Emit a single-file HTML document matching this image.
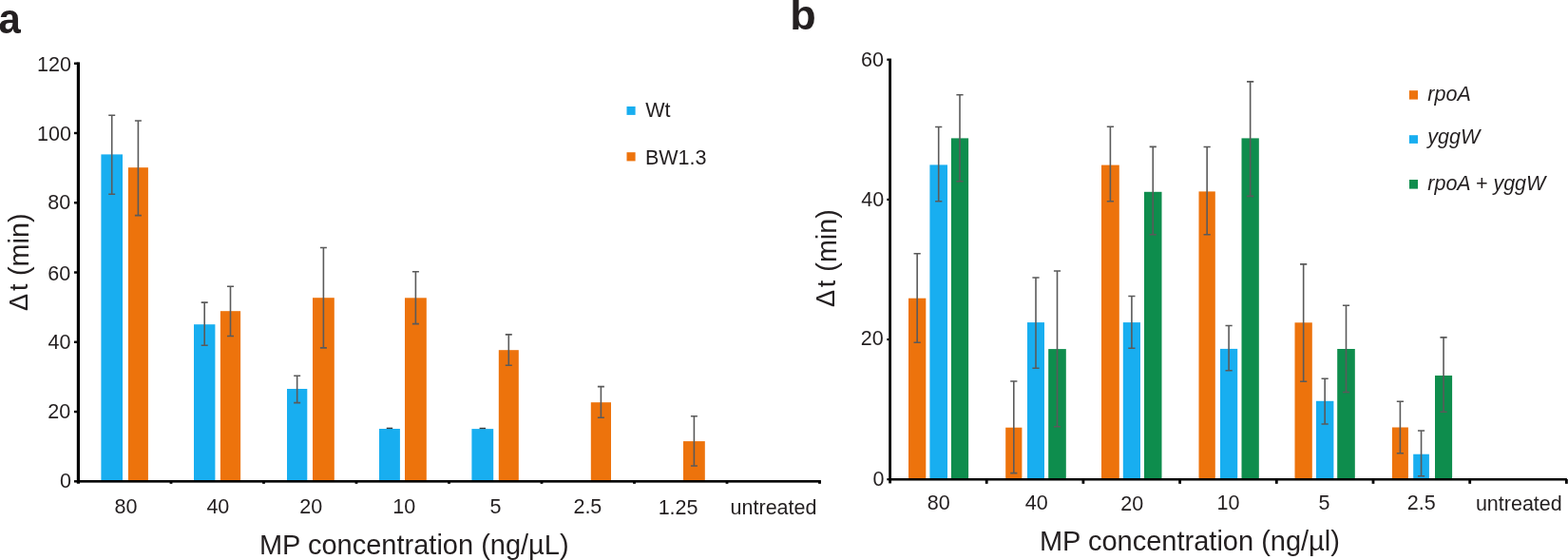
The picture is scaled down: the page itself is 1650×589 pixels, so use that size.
<!DOCTYPE html>
<html><head><meta charset="utf-8"><title>Figure</title>
<style>
html,body{margin:0;padding:0;background:#fff;}
body{width:1650px;height:589px;overflow:hidden;}
svg{display:block;}
text{font-family:"Liberation Sans",Arial,Helvetica,sans-serif;fill:#231F20;}
</style></head>
<body>
<svg width="1650" height="589" viewBox="0 0 1650 589">
<rect width="1650" height="589" fill="#fff"/>
<rect x="106.40" y="162.40" width="22.60" height="343.60" fill="#18AEF0"/>
<rect x="134.90" y="176.20" width="21.00" height="329.80" fill="#ED730C"/>
<rect x="204.00" y="341.20" width="22.40" height="164.80" fill="#18AEF0"/>
<rect x="231.90" y="327.20" width="21.20" height="178.80" fill="#ED730C"/>
<rect x="302.00" y="409.00" width="21.30" height="97.00" fill="#18AEF0"/>
<rect x="329.00" y="313.20" width="22.80" height="192.80" fill="#ED730C"/>
<rect x="399.00" y="451.00" width="21.90" height="55.00" fill="#18AEF0"/>
<rect x="426.00" y="313.30" width="22.80" height="192.70" fill="#ED730C"/>
<rect x="496.40" y="451.10" width="22.80" height="54.90" fill="#18AEF0"/>
<rect x="524.80" y="368.20" width="21.00" height="137.80" fill="#ED730C"/>
<rect x="621.80" y="423.20" width="21.20" height="82.80" fill="#ED730C"/>
<rect x="719.00" y="464.10" width="22.80" height="41.90" fill="#ED730C"/>
<path d="M117.70 121.20V204.20M114.20 121.20H121.20M114.20 204.20H121.20" stroke="#5A5A5A" stroke-width="1.6" fill="none"/>
<path d="M145.40 127.00V226.60M141.90 127.00H148.90M141.90 226.60H148.90" stroke="#5A5A5A" stroke-width="1.6" fill="none"/>
<path d="M215.20 318.10V363.20M211.70 318.10H218.70M211.70 363.20H218.70" stroke="#5A5A5A" stroke-width="1.6" fill="none"/>
<path d="M242.50 301.20V353.50M239.00 301.20H246.00M239.00 353.50H246.00" stroke="#5A5A5A" stroke-width="1.6" fill="none"/>
<path d="M312.65 395.30V423.60M309.15 395.30H316.15M309.15 423.60H316.15" stroke="#5A5A5A" stroke-width="1.6" fill="none"/>
<path d="M340.40 260.50V365.90M336.90 260.50H343.90M336.90 365.90H343.90" stroke="#5A5A5A" stroke-width="1.6" fill="none"/>
<path d="M406.75 450.40H413.15" stroke="#3a3a3a" stroke-width="1.4" fill="none"/>
<path d="M437.40 285.70V340.60M433.90 285.70H440.90M433.90 340.60H440.90" stroke="#5A5A5A" stroke-width="1.6" fill="none"/>
<path d="M504.60 450.50H511.00" stroke="#3a3a3a" stroke-width="1.4" fill="none"/>
<path d="M535.30 351.90V384.20M531.80 351.90H538.80M531.80 384.20H538.80" stroke="#5A5A5A" stroke-width="1.6" fill="none"/>
<path d="M632.40 406.60V439.30M628.90 406.60H635.90M628.90 439.30H635.90" stroke="#5A5A5A" stroke-width="1.6" fill="none"/>
<path d="M730.40 437.70V490.00M726.90 437.70H733.90M726.90 490.00H733.90" stroke="#5A5A5A" stroke-width="1.6" fill="none"/>
<rect x="80.80" y="65.40" width="3.20" height="443.30" fill="#000"/>
<rect x="80.80" y="505.00" width="783.00" height="2.60" fill="#000"/>
<rect x="78.00" y="505.10" width="3.50" height="2.40" fill="#000"/>
<rect x="78.00" y="431.84" width="3.50" height="2.40" fill="#000"/>
<rect x="78.00" y="358.58" width="3.50" height="2.40" fill="#000"/>
<rect x="78.00" y="285.32" width="3.50" height="2.40" fill="#000"/>
<rect x="78.00" y="212.06" width="3.50" height="2.40" fill="#000"/>
<rect x="78.00" y="138.80" width="3.50" height="2.40" fill="#000"/>
<rect x="78.00" y="65.54" width="3.50" height="2.40" fill="#000"/>
<rect x="178.60" y="505.50" width="2.80" height="3.30" fill="#000"/>
<rect x="276.10" y="505.50" width="2.80" height="3.30" fill="#000"/>
<rect x="373.60" y="505.50" width="2.80" height="3.30" fill="#000"/>
<rect x="471.10" y="505.50" width="2.80" height="3.30" fill="#000"/>
<rect x="568.60" y="505.50" width="2.80" height="3.30" fill="#000"/>
<rect x="666.10" y="505.50" width="2.80" height="3.30" fill="#000"/>
<rect x="763.60" y="505.50" width="2.80" height="3.30" fill="#000"/>
<rect x="861.10" y="505.50" width="2.80" height="3.30" fill="#000"/>
<text id="ayt0" x="74.98" y="512.70" font-size="21.5" text-anchor="end" >0</text>
<text id="ayt20" x="74.25" y="440.20" font-size="21.5" text-anchor="end" >20</text>
<text id="ayt40" x="74.53" y="366.98" font-size="21.5" text-anchor="end" >40</text>
<text id="ayt60" x="74.13" y="295.12" font-size="21.5" text-anchor="end" >60</text>
<text id="ayt80" x="74.28" y="220.46" font-size="21.5" text-anchor="end" >80</text>
<text id="ayt100" x="74.97" y="147.60" font-size="21.5" text-anchor="end" >100</text>
<text id="ayt120" x="74.89" y="74.74" font-size="21.5" text-anchor="end" >120</text>
<text id="axt0" x="132.40" y="540.40" font-size="21.5" text-anchor="middle" >80</text>
<text id="axt1" x="229.38" y="540.40" font-size="21.5" text-anchor="middle" >40</text>
<text id="axt2" x="327.21" y="540.36" font-size="21.5" text-anchor="middle" >20</text>
<text id="axt3" x="425.33" y="540.40" font-size="21.5" text-anchor="middle" >10</text>
<text id="axt4" x="521.50" y="540.42" font-size="21.5" text-anchor="middle" >5</text>
<text id="axt5" x="618.37" y="540.40" font-size="21.5" text-anchor="middle" >2.5</text>
<text id="axt6" x="713.59" y="541.00" font-size="21.5" text-anchor="middle" >1.25</text>
<text id="axt7" x="814.04" y="541.40" font-size="21.5" text-anchor="middle" >untreated</text>
<text id="axl" x="272.95" y="582.50" font-size="29" text-anchor="start" >MP concentration (ng/µL)</text>
<text id="aylD" transform="translate(28.90,327.10) rotate(-90)" font-size="27" >Δ</text>
<text id="aylt" transform="translate(29.30,306.09) rotate(-90)" font-size="27" >t</text>
<text id="aylm" transform="translate(29.90,290.00) rotate(-90)" font-size="29" textLength="65.5" lengthAdjust="spacingAndGlyphs">(min)</text>
<rect x="659.50" y="112.00" width="9.10" height="8.90" fill="#18AEF0"/>
<rect x="659.50" y="160.20" width="9.10" height="9.20" fill="#ED730C"/>
<text id="alg1" x="679.20" y="122.60" font-size="21.5" text-anchor="start" >Wt</text>
<text id="alg2" x="678.94" y="172.80" font-size="21.5" text-anchor="start" >BW1.3</text>
<text id="pa" transform="translate(-1.6,35.1) scale(0.93,1)" font-size="45" font-weight="bold">a</text>
<rect x="956.00" y="313.70" width="18.30" height="190.30" fill="#ED730C"/>
<rect x="978.40" y="173.40" width="18.60" height="330.60" fill="#18AEF0"/>
<rect x="1000.90" y="145.40" width="18.20" height="358.60" fill="#0E8D4D"/>
<rect x="1058.20" y="449.70" width="17.20" height="54.30" fill="#ED730C"/>
<rect x="1081.00" y="339.10" width="18.00" height="164.90" fill="#18AEF0"/>
<rect x="1103.20" y="367.10" width="18.60" height="136.90" fill="#0E8D4D"/>
<rect x="1159.00" y="173.60" width="18.80" height="330.40" fill="#ED730C"/>
<rect x="1181.80" y="339.10" width="18.20" height="164.90" fill="#18AEF0"/>
<rect x="1204.00" y="201.80" width="18.50" height="302.20" fill="#0E8D4D"/>
<rect x="1261.50" y="201.40" width="17.30" height="302.60" fill="#ED730C"/>
<rect x="1284.00" y="366.90" width="18.20" height="137.10" fill="#18AEF0"/>
<rect x="1306.50" y="145.40" width="18.30" height="358.60" fill="#0E8D4D"/>
<rect x="1362.50" y="339.30" width="18.30" height="164.70" fill="#ED730C"/>
<rect x="1384.90" y="421.80" width="18.50" height="82.20" fill="#18AEF0"/>
<rect x="1407.20" y="367.00" width="18.60" height="137.00" fill="#0E8D4D"/>
<rect x="1464.90" y="449.50" width="17.00" height="54.50" fill="#ED730C"/>
<rect x="1487.20" y="477.70" width="16.70" height="26.30" fill="#18AEF0"/>
<rect x="1510.00" y="395.00" width="18.10" height="109.00" fill="#0E8D4D"/>
<path d="M965.15 266.80V360.30M961.55 266.80H968.75M961.55 360.30H968.75" stroke="#5A5A5A" stroke-width="1.6" fill="none"/>
<path d="M987.70 133.50V211.80M984.10 133.50H991.30M984.10 211.80H991.30" stroke="#5A5A5A" stroke-width="1.6" fill="none"/>
<path d="M1010.00 99.80V190.80M1006.40 99.80H1013.60M1006.40 190.80H1013.60" stroke="#5A5A5A" stroke-width="1.6" fill="none"/>
<path d="M1066.80 401.00V497.60M1063.20 401.00H1070.40M1063.20 497.60H1070.40" stroke="#5A5A5A" stroke-width="1.6" fill="none"/>
<path d="M1090.00 292.00V387.30M1086.40 292.00H1093.60M1086.40 387.30H1093.60" stroke="#5A5A5A" stroke-width="1.6" fill="none"/>
<path d="M1112.50 285.00V448.70M1108.90 285.00H1116.10M1108.90 448.70H1116.10" stroke="#5A5A5A" stroke-width="1.6" fill="none"/>
<path d="M1168.40 133.30V211.70M1164.80 133.30H1172.00M1164.80 211.70H1172.00" stroke="#5A5A5A" stroke-width="1.6" fill="none"/>
<path d="M1190.90 311.50V366.30M1187.30 311.50H1194.50M1187.30 366.30H1194.50" stroke="#5A5A5A" stroke-width="1.6" fill="none"/>
<path d="M1213.25 154.40V246.80M1209.65 154.40H1216.85M1209.65 246.80H1216.85" stroke="#5A5A5A" stroke-width="1.6" fill="none"/>
<path d="M1270.15 154.50V246.70M1266.55 154.50H1273.75M1266.55 246.70H1273.75" stroke="#5A5A5A" stroke-width="1.6" fill="none"/>
<path d="M1293.10 342.50V389.80M1289.50 342.50H1296.70M1289.50 389.80H1296.70" stroke="#5A5A5A" stroke-width="1.6" fill="none"/>
<path d="M1315.65 85.90V206.40M1312.05 85.90H1319.25M1312.05 206.40H1319.25" stroke="#5A5A5A" stroke-width="1.6" fill="none"/>
<path d="M1371.65 277.90V401.20M1368.05 277.90H1375.25M1368.05 401.20H1375.25" stroke="#5A5A5A" stroke-width="1.6" fill="none"/>
<path d="M1394.15 398.20V446.00M1390.55 398.20H1397.75M1390.55 446.00H1397.75" stroke="#5A5A5A" stroke-width="1.6" fill="none"/>
<path d="M1416.50 321.20V412.50M1412.90 321.20H1420.10M1412.90 412.50H1420.10" stroke="#5A5A5A" stroke-width="1.6" fill="none"/>
<path d="M1473.40 422.20V476.80M1469.80 422.20H1477.00M1469.80 476.80H1477.00" stroke="#5A5A5A" stroke-width="1.6" fill="none"/>
<path d="M1495.55 453.00V500.80M1491.95 453.00H1499.15M1491.95 500.80H1499.15" stroke="#5A5A5A" stroke-width="1.6" fill="none"/>
<path d="M1519.05 354.90V433.30M1515.45 354.90H1522.65M1515.45 433.30H1522.65" stroke="#5A5A5A" stroke-width="1.6" fill="none"/>
<rect x="935.20" y="61.60" width="2.80" height="446.80" fill="#000"/>
<rect x="935.20" y="503.00" width="713.70" height="2.50" fill="#000"/>
<rect x="933.30" y="503.10" width="2.30" height="2.20" fill="#000"/>
<rect x="933.30" y="355.94" width="2.30" height="2.20" fill="#000"/>
<rect x="933.30" y="208.78" width="2.30" height="2.20" fill="#000"/>
<rect x="933.30" y="61.62" width="2.30" height="2.20" fill="#000"/>
<rect x="1036.80" y="504.00" width="2.80" height="4.80" fill="#000"/>
<rect x="1138.50" y="504.00" width="2.80" height="4.80" fill="#000"/>
<rect x="1240.20" y="504.00" width="2.80" height="4.80" fill="#000"/>
<rect x="1341.90" y="504.00" width="2.80" height="4.80" fill="#000"/>
<rect x="1443.60" y="504.00" width="2.80" height="4.80" fill="#000"/>
<rect x="1545.30" y="504.00" width="2.80" height="4.80" fill="#000"/>
<rect x="1647.00" y="504.00" width="2.80" height="4.80" fill="#000"/>
<text id="byt0" x="930.56" y="511.20" font-size="21.5" text-anchor="end" >0</text>
<text id="byt20" x="929.75" y="362.80" font-size="21.5" text-anchor="end" >20</text>
<text id="byt40" x="930.15" y="217.28" font-size="21.5" text-anchor="end" >40</text>
<text id="byt60" x="929.87" y="70.12" font-size="21.5" text-anchor="end" >60</text>
<text id="bxt0" x="987.77" y="536.40" font-size="21.5" text-anchor="middle" >80</text>
<text id="bxt1" x="1090.81" y="536.40" font-size="21.5" text-anchor="middle" >40</text>
<text id="bxt2" x="1191.18" y="536.78" font-size="21.5" text-anchor="middle" >20</text>
<text id="bxt3" x="1292.44" y="536.40" font-size="21.5" text-anchor="middle" >10</text>
<text id="bxt4" x="1393.59" y="536.43" font-size="21.5" text-anchor="middle" >5</text>
<text id="bxt5" x="1495.70" y="536.40" font-size="21.5" text-anchor="middle" >2.5</text>
<text id="bxt6" x="1598.32" y="536.80" font-size="21.5" text-anchor="middle" >untreated</text>
<text id="bxl" x="1093.95" y="578.60" font-size="29" text-anchor="start" >MP concentration (ng/µl)</text>
<text id="bylD" transform="translate(878.30,322.96) rotate(-90)" font-size="27" >Δ</text>
<text id="bylt" transform="translate(878.90,302.13) rotate(-90)" font-size="27" >t</text>
<text id="bylm" transform="translate(879.50,285.70) rotate(-90)" font-size="29" textLength="65.5" lengthAdjust="spacingAndGlyphs">(min)</text>
<rect x="1482.90" y="95.20" width="9.10" height="9.40" fill="#ED730C"/>
<rect x="1482.90" y="142.20" width="9.10" height="8.70" fill="#18AEF0"/>
<rect x="1483.00" y="189.00" width="9.00" height="9.60" fill="#0E8D4D"/>
<text id="blg1" x="1502.32" y="105.90" font-size="21.5" text-anchor="start" font-style="italic">rpoA</text>
<text id="blg2" x="1502.24" y="151.30" font-size="21.5" text-anchor="start" font-style="italic">yggW</text>
<text id="blg3" x="1502.28" y="199.70" font-size="21.5" text-anchor="start" font-style="italic">rpoA + yggW</text>
<text id="pb" x="831.26" y="31.00" font-size="45" text-anchor="start" font-weight="bold">b</text>
</svg>
</body></html>
